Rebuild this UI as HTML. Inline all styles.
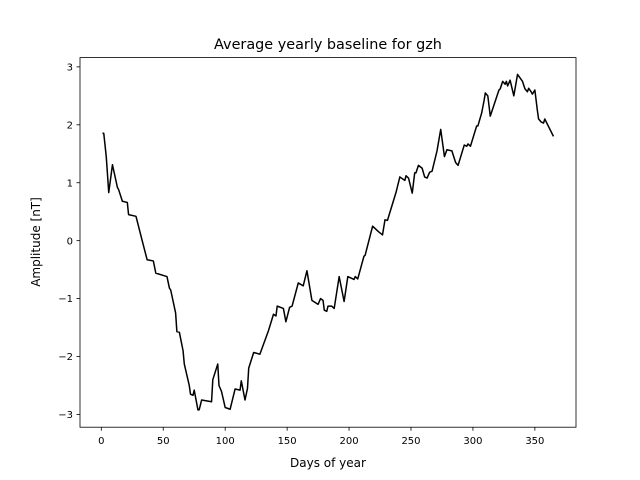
<!DOCTYPE html>
<html><head><meta charset="utf-8"><style>
body{margin:0;background:#fff;}
svg{display:block;font-family:"DejaVu Sans","Liberation Sans",sans-serif;}
</style></head><body>
<svg id="chart" width="640" height="480" viewBox="0 0 640 480" xmlns="http://www.w3.org/2000/svg">
<rect width="640" height="480" fill="#fff"/>
<text x="328" y="49" text-anchor="middle" font-size="14.4">Average yearly baseline for gzh</text>
<g id="xticks"></g>
<g id="yticks"></g>
<path id="line" fill="none" stroke="#000" stroke-width="1.5" stroke-linejoin="round"/>
<rect x="80" y="57.6" width="496" height="369.6" fill="none" stroke="#000" stroke-width="0.8"/>
<text x="328" y="467" text-anchor="middle" font-size="12">Days of year</text>
<text transform="translate(40,242) rotate(-90)" text-anchor="middle" font-size="12">Amplitude [nT]</text>
</svg>
<script>
const days=[1,2,4,6,9,13,14,17,21,22,28,33,37,42,44,53,55,56,60,61,63,66,67,71,72,74,75,78,79,81,89,90,94,95,97,100,104,108,112,113,116,118,119,123,128,135,139,141,142,147,149,152,154,159,163,166,170,175,177,179,180,182,183,186,188,192,196,199,204,205,207,212,213,219,224,227,229,231,238,241,243,245,246,248,251,253,254,256,259,261,263,265,267,271,273,274,277,279,283,286,288,293,295,296,298,303,304,307,309,310,312,314,321,322,324,326,327,328,330,333,336,340,342,344,345,347,348,350,352,353,355,357,358,365];
const values=[1.86,1.85,1.45,0.83,1.31,0.92,0.88,0.68,0.66,0.45,0.42,0.0,-0.33,-0.35,-0.56,-0.62,-0.82,-0.85,-1.25,-1.57,-1.58,-1.9,-2.13,-2.5,-2.65,-2.67,-2.58,-2.92,-2.92,-2.75,-2.78,-2.4,-2.13,-2.5,-2.6,-2.88,-2.91,-2.56,-2.58,-2.42,-2.75,-2.55,-2.2,-1.93,-1.96,-1.55,-1.27,-1.3,-1.13,-1.17,-1.4,-1.15,-1.13,-0.73,-0.78,-0.52,-1.03,-1.1,-1.0,-1.03,-1.2,-1.22,-1.13,-1.13,-1.17,-0.62,-1.05,-0.62,-0.67,-0.62,-0.66,-0.27,-0.25,0.25,0.15,0.1,0.36,0.35,0.84,1.1,1.07,1.04,1.12,1.08,0.82,1.17,1.17,1.3,1.25,1.1,1.08,1.18,1.2,1.55,1.8,1.92,1.45,1.57,1.55,1.35,1.3,1.65,1.63,1.67,1.63,1.98,1.98,2.2,2.42,2.55,2.5,2.15,2.6,2.62,2.75,2.7,2.75,2.67,2.77,2.5,2.87,2.75,2.62,2.57,2.63,2.57,2.53,2.6,2.25,2.1,2.05,2.03,2.1,1.8];
const xTickLabels=[0,50,100,150,200,250,300,350];
const yTickLabels=[-3,-2,-1,0,1,2,3];
const L=80,R=576,T=57.6,B=427.2;
const xmin=-17.2,xmax=383.2,ymin=-3.22,ymax=3.16;
const sx=v=>L+(v-xmin)/(xmax-xmin)*(R-L);
const sy=v=>B-(v-ymin)/(ymax-ymin)*(B-T);
const NS="http://www.w3.org/2000/svg";
let d="";
days.forEach((x,i)=>{d+=(i?"L":"M")+sx(x).toFixed(2)+","+sy(values[i]).toFixed(2);});
document.getElementById("line").setAttribute("d",d);
const xg=document.getElementById("xticks");
xTickLabels.forEach(v=>{
 const l=document.createElementNS(NS,"line");
 l.setAttribute("x1",sx(v));l.setAttribute("x2",sx(v));l.setAttribute("y1",B);l.setAttribute("y2",B+3.5);l.setAttribute("stroke","#000");l.setAttribute("stroke-width","0.8");
 
 
 xg.appendChild(l);
 const t=document.createElementNS(NS,"text");
 t.setAttribute("x",sx(v));t.setAttribute("y",B+17);t.setAttribute("text-anchor","middle");t.setAttribute("font-size","10");
 t.textContent=v;
 
 
 xg.appendChild(t);
});
const yg=document.getElementById("yticks");
yTickLabels.forEach(v=>{
 const l=document.createElementNS(NS,"line");
 l.setAttribute("x1",L-3.5);l.setAttribute("x2",L);l.setAttribute("y1",sy(v));l.setAttribute("y2",sy(v));l.setAttribute("stroke","#000");l.setAttribute("stroke-width","0.8");
 
 
 yg.appendChild(l);
 const t=document.createElementNS(NS,"text");
 t.setAttribute("x",L-7);t.setAttribute("y",sy(v)+3.6);t.setAttribute("text-anchor","end");t.setAttribute("font-size","10");
 t.textContent=v<0?"\u2212"+Math.abs(v):v;
 
 
 yg.appendChild(t);
});
</script>
</body></html>
